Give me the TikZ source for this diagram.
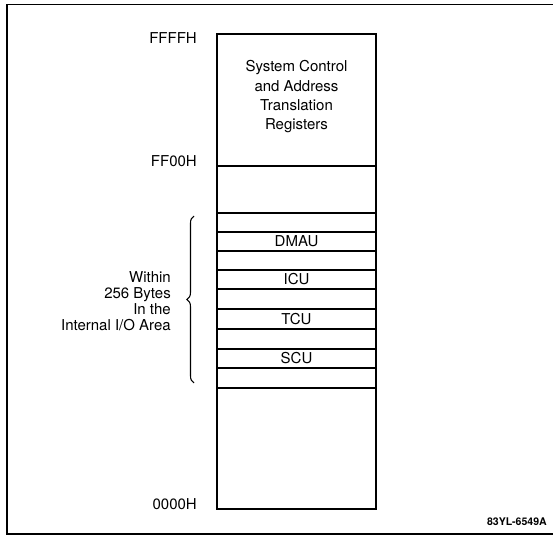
\documentclass[tikz,border=0pt]{standalone}
\usepackage{fontspec}
\setmainfont{TeX Gyre Heros}
\usetikzlibrary{decorations.pathreplacing,calc}

\begin{document}
\begin{tikzpicture}[
    x=0.03cm,y=0.03cm,
    line join=miter,
    every node/.style={font=\fontsize{12.8}{14}\selectfont,inner sep=0pt},
    frameline/.style={line width=1.2pt},
    mapline/.style={line width=1.8pt},
    cellline/.style={line width=0.9pt},
    addrlab/.style={anchor=base east},
    celllab/.style={anchor=center},
    bracelab/.style={align=right,anchor=east,
        font=\fontsize{12.8}{13.6}\selectfont},
    brc/.style={line width=0.9pt,
        decoration={brace,amplitude=6pt,aspect=0.5},decorate},
    figcode/.style={anchor=base east,font=\fontsize{9}{10}\selectfont\bfseries}
]

\useasboundingbox (0,0) rectangle (553,-536);

% ============================================================
% outer frame
% ============================================================

\draw[frameline] (553,-4.5) -- (7,-4.5) -- (7,-534) -- (553,-534);

% ============================================================
% memory map column
% ============================================================

\coordinate (mapTL) at (217,-34);
\coordinate (mapBR) at (376,-509);

\draw[mapline] (mapTL) rectangle (mapBR);

\foreach \y in {166,213,232,251,270,289,309,329,349,368,388}
    \draw[cellline] (217,-\y) -- (376,-\y);

\node[align=center,font=\fontsize{12.8}{16.5}\selectfont] (sysregs) at (296.5,-97)
    {System Control\\and Address\\Translation\\Registers};

\node[celllab] (dmau) at (296.5,-241.5) {DMAU};
\node[celllab] (icu)  at (296.5,-279.5) {ICU};
\node[celllab] (tcu)  at (296.5,-319)   {TCU};
\node[celllab] (scu)  at (296.5,-358.5) {SCU};

% ============================================================
% addresses
% ============================================================

\node[addrlab] (ffffh) at (197,-44)  {FFFFH};
\node[addrlab] (ff00h) at (197,-167) {FF00H};
\node[addrlab] (zeroh) at (197,-509) {0000H};

% ============================================================
% I/O area brace
% ============================================================

\coordinate (braceB) at (194,-383);
\coordinate (braceT) at (194,-216);

\draw[brc] (braceB) -- (braceT);

\node[bracelab] (ioarea) at (171,-301)
    {Within\\256 Bytes\\In the\\Internal I/O Area};

\node[figcode] (code) at (547,-525) {83YL-6549A};

\end{tikzpicture}
\end{document}
